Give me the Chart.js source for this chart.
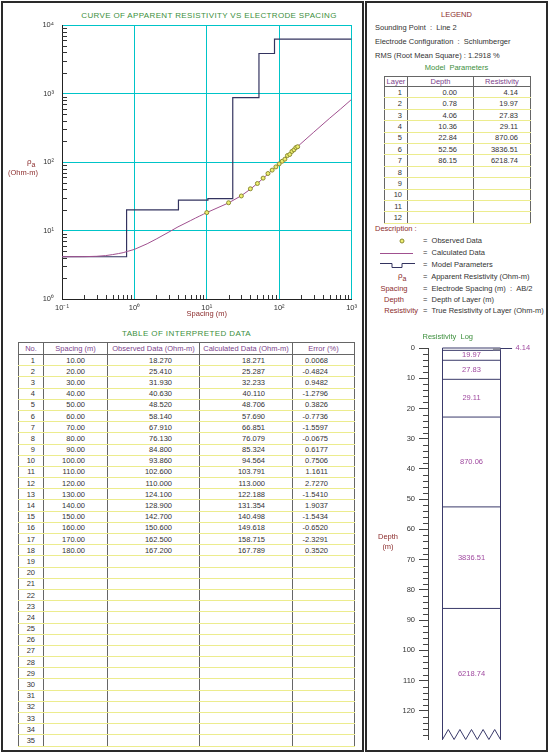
<!DOCTYPE html>
<html lang="en">
<head>
  <meta charset="UTF-8" />
  <title>Resistivity Sounding - Line 2</title>
  <script src="https://cdn.jsdelivr.net/npm/chart.js"></script>
  <style>
    body { margin:0; width:549px; height:753px; position:relative; overflow:hidden; background:#fff;
           font-family:"Liberation Sans", Arial, sans-serif; font-size:7.5px; color:#333; }
    .panel { position:absolute; border:2px solid #2a2a2a; box-sizing:border-box; }
    .abs { position:absolute; line-height:10px; white-space:nowrap; }
    .green { color:#3d8f3d; }
    .maroon { color:#8c2d2d; }
    table { position:absolute; border-collapse:collapse; table-layout:fixed; border:1px solid #666; }
    th { font-weight:normal; color:#7d3f8c; padding:0; text-align:center; border-left:1px solid #666; border-bottom:1px solid #666; line-height:9px; }
    td { padding:0; text-align:right; border-left:1px solid #666; border-bottom:1px solid #ecec8e; line-height:9px; }
    canvas { position:absolute; }
  </style>
</head>
<body>
  <div class="panel" style="left:1px; top:1px; width:363px; height:751px;"></div>
  <div class="panel" style="left:365px; top:1px; width:183px; height:751px;"></div>

  <div class="abs green" style="left:62px; width:294px; top:11px; text-align:center; font-size:8px; letter-spacing:0.35px;">CURVE OF APPARENT RESISTIVITY VS ELECTRODE SPACING</div>
  <canvas id="curveChart" width="358" height="320" style="left:3px; top:3px;"></canvas>
  <div class="abs maroon" style="left:27px; top:157px; font-size:8px;">&rho;<sub style="font-size:7px;">a</sub></div>
  <div class="abs maroon" style="left:8px; top:168px;">(Ohm-m)</div>

  <div class="abs green" style="left:6px; width:361px; top:329px; text-align:center; font-size:8px; letter-spacing:0.4px;">TABLE OF INTERPRETED DATA</div>
  <table id="dataTable" style="left:18px; top:342px; width:337px; height:405px;">
    <colgroup><col style="width:25px"><col style="width:64px"><col style="width:92px"><col style="width:93px"><col style="width:62px"></colgroup>
    <thead><tr style="height:12px"><th>No.</th><th>Spacing (m)</th><th>Observed Data (Ohm-m)</th><th>Calculated Data (Ohm-m)</th><th>Error (%)</th></tr></thead>
    <tbody id="dataRows"></tbody>
  </table>

  <!-- legend panel -->
  <div class="abs maroon" style="left:366px; width:181px; top:10px; text-align:center;">LEGEND</div>
  <div class="abs" style="left:375px; top:23px;">Sounding Point&nbsp; : &nbsp;Line 2</div>
  <div class="abs" style="left:375px; top:37px;">Electrode Configuration&nbsp; : &nbsp;Schlumberger</div>
  <div class="abs" id="rmsText" style="left:375px; top:51px;"></div>
  <div class="abs green" style="left:366px; width:181px; top:63px; text-align:center;">Model&nbsp; Parameters</div>
  <table id="modelTable" style="left:384px; top:76px; width:146px; height:148px;">
    <colgroup><col style="width:23px"><col style="width:66px"><col style="width:57px"></colgroup>
    <thead><tr style="height:10px"><th>Layer</th><th>Depth</th><th>Resistivity</th></tr></thead>
    <tbody id="modelRows"></tbody>
  </table>

  <div class="abs maroon" style="left:375px; top:224px;">Description :</div>
  <svg style="position:absolute; left:376px; top:236px;" width="45" height="36">
    <circle cx="26" cy="5" r="2" fill="#eeee70" stroke="#8a8a30" stroke-width="1"/>
    <line x1="4" y1="17.5" x2="37" y2="17.5" stroke="#a0508f" stroke-width="1"/>
    <path d="M4 27.5 H16 V31.5 H26 V27.5 H39" fill="none" stroke="#33335f" stroke-width="1"/>
  </svg>
  <div class="abs" style="left:423px; top:236px;">=&nbsp; Observed Data</div>
  <div class="abs" style="left:423px; top:248px;">=&nbsp; Calculated Data</div>
  <div class="abs" style="left:423px; top:260px;">=&nbsp; Model Parameters</div>
  <div class="abs maroon" style="left:398px; top:271px; font-size:8px;">&rho;<sub style="font-size:7px;">a</sub></div>
  <div class="abs" style="left:423px; top:272px;">=&nbsp; Apparent Resistivity (Ohm-m)</div>
  <div class="abs maroon" style="left:370px; width:48px; text-align:center; top:284px;">Spacing</div>
  <div class="abs" style="left:423px; top:284px;">=&nbsp; Electrode Spacing (m)&nbsp; : &nbsp;AB/2</div>
  <div class="abs maroon" style="left:370px; width:48px; text-align:center; top:295px;">Depth</div>
  <div class="abs" style="left:423px; top:295px;">=&nbsp; Depth of Layer (m)</div>
  <div class="abs maroon" style="left:368px; width:50px; text-align:right; top:306px;">Resistivity</div>
  <div class="abs" style="left:423px; top:306px;">=&nbsp; True Resistivity of Layer (Ohm-m)</div>

  <canvas id="logChart" width="179" height="418" style="left:366px; top:330px;"></canvas>
  <div class="abs maroon" style="left:378px; top:532px; width:20px; text-align:center;">Depth<br>(m)</div>

  <script>
    // observed / calculated data (table of interpreted data)
    const spacing = [10, 20, 30, 40, 50, 60, 70, 80, 90, 100, 110, 120, 130, 140, 150, 160, 170, 180];
    const observed = [18.27, 25.41, 31.93, 40.63, 48.52, 58.14, 67.91, 76.13, 84.8, 93.86, 102.6, 110.0, 124.1, 128.9, 142.7, 150.6, 162.5, 167.2];
    const calculated = [18.271, 25.287, 32.233, 40.110, 48.706, 57.690, 66.851, 76.079, 85.324, 94.564, 103.791, 113.000, 122.188, 131.354, 140.498, 149.618, 158.715, 167.789];
    const errors = [0.0068, -0.4824, 0.9482, -1.2796, 0.3826, -0.7736, -1.5597, -0.0675, 0.6177, 0.7506, 1.1611, 2.7270, -1.5410, 1.9037, -1.5434, -0.6520, -2.3291, 0.3520];
    const tableRows = 35;

    const curveSpacingLow = [0.1, 0.2, 0.3, 0.4, 0.5, 0.6, 0.7, 0.8, 1, 1.5, 2, 3, 4, 5, 6, 7, 8, 9];
    const curveRhoLow = [4.14, 4.15, 4.2, 4.3, 4.45, 4.6, 4.75, 4.95, 5.3, 6.4, 7.5, 9.5, 11.3, 12.7, 14, 15.2, 16.3, 17.3];
    const curveSpacingHigh = [200, 300, 500, 700, 1000];
    const curveRhoHigh = [186, 272, 437, 590, 820];

    // model parameters
    const layerNo = [1, 2, 3, 4, 5, 6, 7];
    const layerDepth = [0.00, 0.78, 4.06, 10.36, 22.84, 52.56, 86.15];
    const layerRho = [4.14, 19.97, 27.83, 29.11, 870.06, 3836.51, 6218.74];
    const modelRows = 12;
    const rms = 1.2918;

    // axes
    const xDecades = [0.1, 1, 10, 100, 1000];
    const yDecades = [1, 10, 100, 1000, 10000];
    const depthMax = 129.5;

    const green = '#3d8f3d', maroon = '#8c2d2d', cyan = '#00c4c8';
    Chart.defaults.font.family = '"Liberation Sans", Arial, sans-serif';
    Chart.defaults.font.size = 7.5;
    Chart.defaults.color = '#333';

    document.getElementById('rmsText').textContent = 'RMS (Root Mean Square)  :  ' + rms.toFixed(4) + ' %';

    // tables
    function addRow(tbody, cells, pads) {
      const tr = document.createElement('tr');
      cells.forEach((c, i) => {
        const td = document.createElement('td');
        td.textContent = c;
        td.style.paddingRight = pads[i] + 'px';
        tr.appendChild(td);
      });
      tbody.appendChild(tr);
    }
    const dataRows = document.getElementById('dataRows');
    for (let i = 0; i < tableRows; i++) {
      const has = i < spacing.length;
      addRow(dataRows, [i + 1,
        has ? spacing[i].toFixed(2) : '',
        has ? observed[i].toFixed(3) : '',
        has ? calculated[i].toFixed(3) : '',
        has ? errors[i].toFixed(4) : ''], [8, 22, 27, 27, 26]);
    }
    const modelBody = document.getElementById('modelRows');
    for (let i = 0; i < modelRows; i++) {
      const has = i < layerNo.length;
      addRow(modelBody, [i + 1, has ? layerDepth[i].toFixed(2) : '', has ? layerRho[i].toFixed(2) : ''], [5, 16, 12]);
    }

    // helpers
    const isDecade = v => Math.abs(Math.log10(v) - Math.round(Math.log10(v))) < 1e-9;
    const supMap = { '-': '\u207b', '0': '\u2070', '1': '\u00b9', '2': '\u00b2', '3': '\u00b3', '4': '\u2074' };
    const decadeLabel = v => isDecade(v) ? '10' + String(Math.round(Math.log10(v))).split('').map(c => supMap[c]).join('') : '';
    const logTicks = decades => {
      const t = [];
      decades.forEach((d, i) => {
        t.push(d);
        if (i < decades.length - 1) for (let m = 2; m <= 9; m++) t.push(d * m);
      });
      return t;
    };

    // chart 1: apparent resistivity vs spacing
    const curvePoints = curveSpacingLow.map((s, i) => ({ x: s, y: curveRhoLow[i] }))
      .concat(spacing.map((s, i) => ({ x: s, y: calculated[i] })))
      .concat(curveSpacingHigh.map((s, i) => ({ x: s, y: curveRhoHigh[i] })));
    const stepPoints = layerDepth.map((d, i) => ({ x: Math.max(d, xDecades[0]), y: layerRho[i] }));
    stepPoints.push({ x: xDecades[xDecades.length - 1], y: layerRho[layerRho.length - 1] });

    const innerTicks = {
      id: 'innerTicks',
      afterDraw(chart) {
        const { ctx, chartArea: a, scales: { x, y } } = chart;
        ctx.save();
        ctx.strokeStyle = '#333';
        ctx.lineWidth = 1;
        ctx.beginPath();
        x.ticks.forEach(t => {
          if (isDecade(t.value)) return;
          const px = Math.round(x.getPixelForValue(t.value)) + 0.5;
          ctx.moveTo(px, a.bottom); ctx.lineTo(px, a.bottom - 4);
        });
        y.ticks.forEach(t => {
          if (isDecade(t.value)) return;
          const py = Math.round(y.getPixelForValue(t.value)) + 0.5;
          ctx.moveTo(a.left, py); ctx.lineTo(a.left + 5, py);
        });
        ctx.stroke();
        ctx.restore();
      }
    };

    new Chart(document.getElementById('curveChart'), {
      type: 'scatter',
      data: {
        datasets: [
          { label: 'Observed Data', data: spacing.map((s, i) => ({ x: s, y: observed[i] })),
            pointRadius: 2, pointBackgroundColor: '#eeee70', pointBorderColor: '#8a8a30', pointBorderWidth: 1 },
          { label: 'Calculated Data', data: curvePoints, showLine: true, pointRadius: 0,
            borderColor: '#a0508f', borderWidth: 1 },
          { label: 'Model Parameters', data: stepPoints, showLine: true, stepped: true, pointRadius: 0,
            borderColor: '#33335f', borderWidth: 1.2 },
        ],
      },
      options: {
        responsive: false,
        animation: false,
        layout: { padding: { top: 22, right: 5, bottom: 0, left: 0 } },
        plugins: {
          legend: { display: false },
          tooltip: { enabled: false },
        },
        scales: {
          x: {
            type: 'logarithmic', min: 0.1, max: 1000,
            afterBuildTicks: s => { s.ticks = logTicks(xDecades).map(v => ({ value: v })); },
            afterFit: s => { s.height = 24; },
            ticks: { autoSkip: false, maxRotation: 0, padding: 4, callback: v => decadeLabel(v) },
            grid: { drawTicks: false, color: c => c.tick && isDecade(c.tick.value) ? cyan : 'rgba(0,0,0,0)' },
            border: { color: '#222' },
            title: { display: true, text: 'Spacing (m)', color: maroon, font: { size: 7.5 }, padding: { top: 0, bottom: 5 } },
          },
          y: {
            type: 'logarithmic', min: 1, max: 10000,
            afterBuildTicks: s => { s.ticks = logTicks(yDecades).map(v => ({ value: v })); },
            afterFit: s => { s.width = 59; },
            ticks: { autoSkip: false, padding: 8, callback: v => decadeLabel(v) },
            grid: { drawTicks: false, color: c => c.tick && isDecade(c.tick.value) ? cyan : 'rgba(0,0,0,0)' },
            border: { color: '#222' },
          },
        },
      },
      plugins: [innerTicks],
    });

    // chart 2: resistivity log
    const lineColor = '#3a3a6a';
    const logLines = layerDepth.map(d => ({ data: [{ x: 0, y: d }, { x: 1, y: d }] }));
    logLines.push({ data: [{ x: 0, y: 0 }, { x: 0, y: depthMax }] });
    logLines.push({ data: [{ x: 1, y: 0 }, { x: 1, y: depthMax }] });
    logLines.forEach(ds => Object.assign(ds, { showLine: true, pointRadius: 0, borderColor: lineColor, borderWidth: 1, clip: false }));

    const logDecor = {
      id: 'logDecor',
      afterDraw(chart) {
        const { ctx, scales: { x, y } } = chart;
        const x0 = x.getPixelForValue(0), x1 = x.getPixelForValue(1);
        ctx.save();
        // minor depth ticks
        ctx.strokeStyle = '#444';
        ctx.lineWidth = 1;
        ctx.beginPath();
        y.ticks.forEach(t => {
          if (t.value % 10 === 0) return;
          const py = Math.round(y.getPixelForValue(t.value)) + 0.5;
          ctx.moveTo(chart.chartArea.left - 5, py); ctx.lineTo(chart.chartArea.left, py);
        });
        ctx.stroke();
        // zigzag bottom of the column
        const yb = y.getPixelForValue(depthMax), n = 5;
        ctx.strokeStyle = lineColor;
        ctx.beginPath();
        ctx.moveTo(x0, yb);
        for (let k = 0; k < n; k++) {
          ctx.lineTo(x0 + (x1 - x0) * (k + 0.5) / n, yb - 10);
          ctx.lineTo(x0 + (x1 - x0) * (k + 1) / n, yb);
        }
        ctx.stroke();
        // top (thin) layer: marker and leader to its value
        const yTop = y.getPixelForValue(layerDepth[0]), yNext = y.getPixelForValue(layerDepth[1]);
        ctx.fillStyle = '#8a8a9a';
        ctx.fillRect(x.getPixelForValue(0.87), yTop, x1 - x.getPixelForValue(0.87), yNext - yTop);
        ctx.beginPath();
        ctx.moveTo(x1, yTop + 0.5); ctx.lineTo(x.getPixelForValue(1.2), yTop + 0.5);
        ctx.stroke();
        ctx.font = '7.5px "Liberation Sans", Arial, sans-serif';
        ctx.fillStyle = '#a04aa0';
        ctx.textBaseline = 'middle';
        ctx.textAlign = 'left';
        ctx.fillText(layerRho[0].toFixed(2), x.getPixelForValue(1.26), yTop);
        // layer values in the middle of each layer
        ctx.textAlign = 'center';
        for (let i = 1; i < layerDepth.length; i++) {
          const bottom = i + 1 < layerDepth.length ? layerDepth[i + 1] : depthMax;
          ctx.fillText(layerRho[i].toFixed(2), x.getPixelForValue(0.5), y.getPixelForValue((layerDepth[i] + bottom) / 2));
        }
        ctx.restore();
      }
    };

    new Chart(document.getElementById('logChart'), {
      type: 'scatter',
      data: { datasets: logLines },
      options: {
        responsive: false,
        animation: false,
        layout: { padding: { top: 0, right: 15.5, bottom: 5, left: 0 } },
        plugins: {
          legend: { display: false },
          tooltip: { enabled: false },
          title: { display: true, text: 'Resistivity  Log', color: green, font: { size: 7.5, weight: 'normal' }, padding: { top: 2, bottom: 7 } },
        },
        scales: {
          x: { type: 'linear', display: false, min: -0.25, max: 1.5 },
          y: {
            type: 'linear', reverse: true, min: 0, max: depthMax,
            afterFit: s => { s.width = 62; },
            ticks: { stepSize: 2, autoSkip: false, includeBounds: false, padding: 4, color: '#333',
                     callback: v => v % 10 === 0 ? v : '' },
            grid: { drawOnChartArea: false, tickLength: 9,
                    tickColor: c => c.tick && c.tick.value % 10 === 0 ? '#444' : 'rgba(0,0,0,0)' },
            border: { color: '#444' },
          },
        },
      },
      plugins: [logDecor],
    });
  </script>
</body>
</html>
